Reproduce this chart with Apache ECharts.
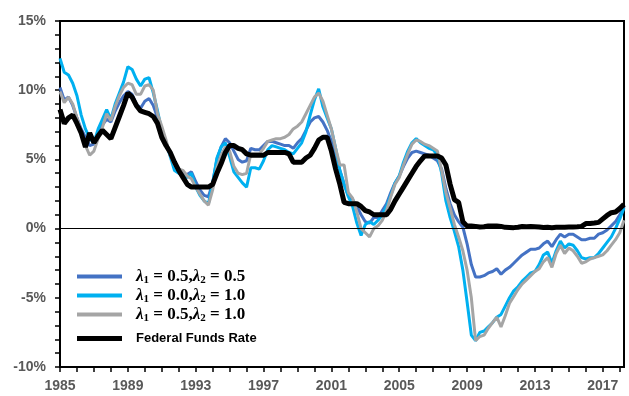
<!DOCTYPE html>
<html><head><meta charset="utf-8">
<script src="https://cdn.jsdelivr.net/npm/echarts@6/dist/echarts.min.js"></script>
<style>html,body{margin:0;padding:0;background:#fff}#c{width:629px;height:396px}</style>
</head><body><div id="c"></div>
<script>
// ---- categories ----
const years = [1985,1986,1987,1988,1989,1990,1991,1992,1993,1994,1995,1996,1997,1998,1999,2000,2001,2002,2003,2004,2005,2006,2007,2008,2009,2010,2011,2012,2013,2014,2015,2016,2017,2018];
const quarters = ['Q1','Q2','Q3','Q4'];
const xTickLabels = ['1985','1989','1993','1997','2001','2005','2009','2013','2017'];
const yTickLabels = ['-10%','-5%','0%','5%','10%','15%'];
const seriesNames = ['lam55','lam01','lam51','Federal Funds Rate'];

// ---- series values (%), quarterly, 1985Q1 .. 2018Q2 ----
const rateLam55 = [
 10.2, 9.3, 9.5, 8.9,   8.0, 7.2, 6.6, 6.0,   6.1, 6.8, 7.5, 7.9,   7.7, 8.5, 9.1, 9.6,
 9.9, 9.7, 9.0, 8.7,    9.2, 9.4, 8.9, 8.0,   7.0, 6.2, 5.3, 4.6,   4.3, 4.0, 3.9, 4.1,
 3.4, 2.8, 2.4, 2.3,    3.3, 5.0, 5.9, 6.5,   6.2, 5.6, 5.0, 4.8,   4.9, 5.8, 5.7, 5.7,
 6.0, 6.3, 6.3, 6.2,    6.1, 6.0, 6.0, 5.8,   6.2, 6.5, 7.1, 7.7,   8.0, 8.1, 7.7, 7.1,
 6.3, 5.3, 4.2, 3.2,    2.4, 2.1, 1.6, 1.0,   0.5, 0.4, 0.8, 0.8,   1.3, 1.8, 2.6, 3.3,
 3.8, 4.5, 5.1, 5.5,    5.6, 5.5, 5.4, 5.3,   5.1, 4.9, 4.3, 2.9,   1.8, 1.0, 0.5, 0.1,
 -1.1, -2.6, -3.5, -3.5, -3.4, -3.2, -3.1, -2.9, -3.3, -3.0, -2.8, -2.5, -2.2, -1.9, -1.7, -1.5,
 -1.5, -1.4, -1.1, -0.9, -1.3, -0.8, -0.4, -0.6, -0.4, -0.4, -0.6, -0.8, -0.8, -0.7, -0.7, -0.4,
 -0.3, -0.1, 0.2, 0.5,  1.0, 1.6
];
const rateLam01 = [
 12.3, 11.3, 11.1, 10.5, 9.6, 8.2, 7.2, 6.5,  6.2, 7.2, 7.9, 8.6,   7.9, 9.0, 9.8, 10.6,
 11.7, 11.5, 10.8, 10.3, 10.8, 10.9, 9.8, 8.5, 7.1, 6.2, 5.2, 4.2,  4.0, 3.8, 3.7, 4.0,
 3.0, 2.4, 2.0, 1.8,    3.3, 5.1, 5.9, 6.2,   5.2, 4.1, 3.7, 3.3,   3.0, 4.4, 4.4, 4.3,
 4.9, 5.7, 6.0, 5.9,    5.8, 5.7, 5.5, 5.4,   5.8, 6.2, 7.0, 8.2,   9.3, 10.1, 8.8, 8.0,
 7.2, 5.8, 4.2, 3.2,    2.3, 1.6, 0.4, -0.5,  0.3, 0.5, 0.3, 0.6,   1.0, 1.6, 2.4, 3.3,
 3.8, 4.8, 5.6, 6.2,    6.5, 6.2, 6.0, 5.8,   5.7, 5.3, 4.0, 2.0,   0.8, -0.2, -1.3, -3.0,
 -5.3, -7.7, -8.1, -7.5, -7.4, -7.1, -6.8, -6.4, -6.2, -5.6, -5.0, -4.5, -4.2, -3.8, -3.5, -3.2,
 -3.1, -2.6, -1.9, -1.7, -2.5, -1.6, -0.9, -1.4, -1.1, -1.2, -1.6, -2.1, -2.2, -2.1, -2.1, -1.8,
 -1.4, -1.0, -0.6, 0.0, 0.7, 1.5
];
const rateLam51 = [
 9.9, 9.1, 9.5, 9.0,    8.0, 7.0, 6.0, 5.3,   5.6, 6.5, 7.3, 8.3,   7.8, 8.8, 9.6, 10.2,
 10.5, 10.4, 9.7, 9.7,  10.3, 10.4, 10.0, 8.3, 7.4, 6.4, 5.3, 4.6,  4.3, 4.2, 3.8, 3.6,
 3.0, 2.5, 2.0, 1.7,    2.8, 4.4, 5.3, 5.9,   5.6, 4.5, 4.0, 3.9,   4.0, 5.4, 5.4, 5.4,
 5.8, 6.3, 6.4, 6.5,    6.5, 6.6, 6.8, 7.2,   7.4, 7.7, 8.3, 8.9,   9.5, 9.8, 9.2, 8.2,
 7.2, 5.8, 4.6, 4.6,    2.6, 2.2, 1.2, 0.0,   -0.3, -0.6, 0.0, 0.2, 0.6, 1.3, 2.3, 3.2,
 3.7, 4.6, 5.4, 6.1,    6.4, 6.3, 6.1, 6.0,   5.8, 5.6, 4.2, 2.6,   1.5, 0.3, -0.6, -1.6,
 -3.0, -5.0, -8.1, -7.8, -7.7, -7.2, -6.8, -6.4, -7.1, -6.3, -5.4, -4.9, -4.4, -4.0, -3.7, -3.4,
 -3.1, -2.9, -2.4, -2.1, -2.8, -1.8, -1.2, -1.8, -1.4, -1.6, -2.0, -2.5, -2.4, -2.2, -2.1, -2.0,
 -1.9, -1.6, -1.2, -0.8, -0.3, 0.6
];
const fedFunds = [
 8.6, 7.6, 8.0, 8.2,    7.6, 6.9, 5.9, 6.9,   6.2, 6.7, 7.1, 6.8,   6.5, 7.3, 8.1, 8.9,
 9.8, 9.5, 8.9, 8.5,    8.4, 8.3, 8.1, 7.6,   6.6, 6.0, 5.5, 4.8,   4.2, 3.7, 3.2, 3.0,
 3.0, 3.0, 3.0, 3.0,    3.2, 4.0, 4.7, 5.5,   6.0, 6.0, 5.8, 5.7,   5.4, 5.3, 5.3, 5.3,
 5.3, 5.5, 5.5, 5.5,    5.5, 5.5, 5.4, 4.8,   4.8, 4.8, 5.1, 5.3,   5.8, 6.4, 6.6, 6.6,
 5.6, 4.3, 3.2, 1.9,    1.8, 1.8, 1.8, 1.6,   1.3, 1.2, 1.0, 1.0,   1.0, 1.0, 1.4, 2.0,
 2.5, 3.0, 3.5, 4.0,    4.5, 4.9, 5.25, 5.25, 5.25, 5.25, 5.1, 4.6, 3.2, 2.1, 1.9, 0.5,
 0.18, 0.18, 0.16, 0.12, 0.13, 0.19, 0.19, 0.19, 0.16, 0.09, 0.08, 0.07, 0.10, 0.15, 0.14, 0.16,
 0.14, 0.12, 0.08, 0.09, 0.07, 0.09, 0.09, 0.10, 0.11, 0.12, 0.13, 0.16, 0.36, 0.37, 0.40, 0.45,
 0.70, 0.95, 1.15, 1.20, 1.45, 1.75
];

// build quarterly category list from years x quarters
const categories = [];
years.forEach(y => quarters.forEach(q => { if (categories.length < fedFunds.length) categories.push(y + q); }));

const legendRich = {
  lam55: '{l|λ}{s|1}{n| = 0.5,}{l|λ}{s|2}{n| = 0.5}',
  lam01: '{l|λ}{s|1}{n| = 0.0,}{l|λ}{s|2}{n| = 1.0}',
  lam51: '{l|λ}{s|1}{n| = 0.5,}{l|λ}{s|2}{n| = 1.0}'
};
const serif = 'Liberation Serif';
const sans = 'Liberation Sans';

const chart = echarts.init(document.getElementById('c'), null, {renderer: 'canvas'});
function lineSeries(name, data, color, width, extra) {
  return Object.assign({
    name: name, type: 'line', data: data, symbol: 'none', showSymbol: false,
    color: color, lineStyle: {color: color, width: width}, animation: false
  }, extra || {});
}
chart.setOption({
  animation: false,
  grid: {left: 60, right: 5, top: 21, bottom: 29, show: true, borderColor: '#000', borderWidth: 2, backgroundColor: 'transparent'},
  xAxis: {
    type: 'category', data: categories, boundaryGap: false,
    axisLine: {onZero: false, lineStyle: {color: '#000', width: 2}},
    axisTick: {show: true, interval: 3, length: 5, lineStyle: {color: '#000', width: 1.5}},
    axisLabel: {interval: 15, color: '#595959', fontWeight: 'bold', fontSize: 14, fontFamily: sans, margin: 12,
      formatter: v => { const s = String(v).slice(0, 4); return xTickLabels.indexOf(s) >= 0 ? s : ''; }},
    splitLine: {show: false}
  },
  yAxis: {
    type: 'value', min: -10, max: 15, interval: 1,
    axisLine: {show: true, lineStyle: {color: '#000', width: 2}},
    axisTick: {show: true, length: 5, lineStyle: {color: '#000', width: 1.5}},
    axisLabel: {color: '#595959', fontWeight: 'bold', fontSize: 14, fontFamily: sans, margin: 14,
      formatter: v => { const s = v + '%'; return yTickLabels.indexOf(s) >= 0 ? s : ''; }},
    splitLine: {show: false}
  },
  legend: [{
    orient: 'vertical', left: 72, top: 263, itemGap: 1, itemWidth: 45, itemHeight: 4, icon: 'rect',
    data: [seriesNames[0], seriesNames[1], seriesNames[2]],
    formatter: n => legendRich[n],
    textStyle: {padding: [0, 0, 0, 9], rich: {
      l: {fontFamily: serif, fontStyle: 'italic', fontWeight: 'bold', fontSize: 17, lineHeight: 19, color: '#000'},
      s: {fontFamily: serif, fontWeight: 'bold', fontSize: 11, lineHeight: 19, verticalAlign: 'bottom', color: '#000'},
      n: {fontFamily: serif, fontWeight: 'bold', fontSize: 17, lineHeight: 19, color: '#000'}
    }}
  }, {
    orient: 'vertical', left: 72, top: 327, itemWidth: 45, itemHeight: 5, icon: 'rect',
    data: [seriesNames[3]],
    textStyle: {padding: [0, 0, 0, 9], fontFamily: sans, fontWeight: 'bold', fontSize: 13, color: '#000'}
  }],
  series: [
    lineSeries(seriesNames[0], rateLam55, '#4472C4', 3, {
      markLine: {silent: true, symbol: ['none', 'none'], label: {show: false}, animation: false,
        lineStyle: {color: '#000', width: 1, type: 'solid'}, data: [{yAxis: 0}]}
    }),
    lineSeries(seriesNames[1], rateLam01, '#00B0F0', 3),
    lineSeries(seriesNames[2], rateLam51, '#A5A5A5', 3),
    lineSeries(seriesNames[3], fedFunds, '#000000', 5)
  ]
});
</script></body></html>
